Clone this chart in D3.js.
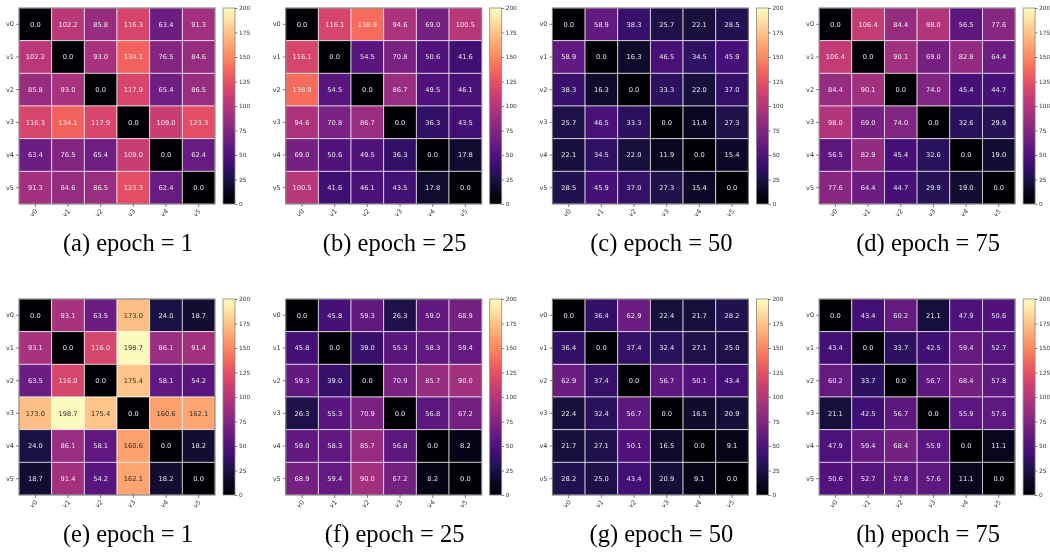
<!DOCTYPE html>
<html>
<head>
<meta charset="utf-8">
<script src="https://cdn.jsdelivr.net/npm/d3@7"></script>
<style>
  body { margin: 0; background: #fff; }
  svg { display: block; will-change: transform; }
  svg text { opacity: 0.99; }
</style>
</head>
<body>
<svg width="1050" height="552"></svg>
<script>
// node labels, colorbar ticks, captions
var nodes = ["v0", "v1", "v2", "v3", "v4", "v5"];
var cbTicks = [0, 25, 50, 75, 100, 125, 150, 175, 200];
var captions = ["(a) epoch = 1", "(b) epoch = 25", "(c) epoch = 50", "(d) epoch = 75",
                "(e) epoch = 1", "(f) epoch = 25", "(g) epoch = 50", "(h) epoch = 75"];

// distance matrices, one per panel
var matA = [
  [0.0, 102.2, 85.8, 116.3, 63.4, 91.3],
  [102.2, 0.0, 93.0, 134.1, 76.5, 84.6],
  [85.8, 93.0, 0.0, 117.9, 65.4, 86.5],
  [116.3, 134.1, 117.9, 0.0, 109.0, 123.3],
  [63.4, 76.5, 65.4, 109.0, 0.0, 62.4],
  [91.3, 84.6, 86.5, 123.3, 62.4, 0.0]
];
var matB = [
  [0.0, 116.1, 138.9, 94.6, 69.0, 100.5],
  [116.1, 0.0, 54.5, 70.8, 50.6, 41.6],
  [138.9, 54.5, 0.0, 86.7, 49.5, 46.1],
  [94.6, 70.8, 86.7, 0.0, 36.3, 43.5],
  [69.0, 50.6, 49.5, 36.3, 0.0, 17.8],
  [100.5, 41.6, 46.1, 43.5, 17.8, 0.0]
];
var matC = [
  [0.0, 58.9, 38.3, 25.7, 22.1, 28.5],
  [58.9, 0.0, 16.3, 46.5, 34.5, 45.9],
  [38.3, 16.3, 0.0, 33.3, 22.0, 37.0],
  [25.7, 46.5, 33.3, 0.0, 11.9, 27.3],
  [22.1, 34.5, 22.0, 11.9, 0.0, 15.4],
  [28.5, 45.9, 37.0, 27.3, 15.4, 0.0]
];
var matD = [
  [0.0, 106.4, 84.4, 98.0, 56.5, 77.6],
  [106.4, 0.0, 90.1, 69.0, 82.9, 64.4],
  [84.4, 90.1, 0.0, 74.0, 45.4, 44.7],
  [98.0, 69.0, 74.0, 0.0, 32.6, 29.9],
  [56.5, 82.9, 45.4, 32.6, 0.0, 19.0],
  [77.6, 64.4, 44.7, 29.9, 19.0, 0.0]
];
var matE = [
  [0.0, 93.1, 63.5, 173.0, 24.0, 18.7],
  [93.1, 0.0, 116.0, 198.7, 86.1, 91.4],
  [63.5, 116.0, 0.0, 175.4, 58.1, 54.2],
  [173.0, 198.7, 175.4, 0.0, 160.6, 162.1],
  [24.0, 86.1, 58.1, 160.6, 0.0, 18.2],
  [18.7, 91.4, 54.2, 162.1, 18.2, 0.0]
];
var matF = [
  [0.0, 45.8, 59.3, 26.3, 59.0, 68.9],
  [45.8, 0.0, 39.0, 55.3, 58.3, 59.4],
  [59.3, 39.0, 0.0, 70.9, 85.7, 90.0],
  [26.3, 55.3, 70.9, 0.0, 56.8, 67.2],
  [59.0, 58.3, 85.7, 56.8, 0.0, 8.2],
  [68.9, 59.4, 90.0, 67.2, 8.2, 0.0]
];
var matG = [
  [0.0, 36.4, 62.9, 22.4, 21.7, 28.2],
  [36.4, 0.0, 37.4, 32.4, 27.1, 25.0],
  [62.9, 37.4, 0.0, 56.7, 50.1, 43.4],
  [22.4, 32.4, 56.7, 0.0, 16.5, 20.9],
  [21.7, 27.1, 50.1, 16.5, 0.0, 9.1],
  [28.2, 25.0, 43.4, 20.9, 9.1, 0.0]
];
var matH = [
  [0.0, 43.4, 60.2, 21.1, 47.9, 50.6],
  [43.4, 0.0, 33.7, 42.5, 59.4, 52.7],
  [60.2, 33.7, 0.0, 56.7, 68.4, 57.8],
  [21.1, 42.5, 56.7, 0.0, 55.9, 57.6],
  [47.9, 59.4, 68.4, 55.9, 0.0, 11.1],
  [50.6, 52.7, 57.8, 57.6, 11.1, 0.0]
];

var panels = [matA, matB, matC, matD, matE, matF, matG, matH];

var svg = d3.select("svg");
var size = 196;
var color = d3.scaleSequential(d3.interpolateMagma).domain([0, 200]);

var band = d3.scaleBand().domain(nodes).range([0, size]);
var cbScale = d3.scaleLinear().domain([0, 200]).range([size, 0]);

// shared gradient for the colorbars
var grad = svg.append("defs").append("linearGradient")
    .attr("id", "magma")
    .attr("x1", 0).attr("y1", 1).attr("x2", 0).attr("y2", 0);
d3.range(0, 1.0001, 0.05).forEach(function(t) {
  grad.append("stop").attr("offset", t).attr("stop-color", d3.interpolateMagma(t));
});

function luminance(c) {
  var rgb = d3.rgb(c);
  var ch = [rgb.r, rgb.g, rgb.b].map(function(v) {
    v = v / 255;
    return v <= 0.03928 ? v / 12.92 : Math.pow((v + 0.055) / 1.055, 2.4);
  });
  return 0.2126 * ch[0] + 0.7152 * ch[1] + 0.0722 * ch[2];
}

panels.forEach(function(mat, i) {
  var col = i % 4, row = Math.floor(i / 4);
  var left = 19 + col * 266.7;
  var top = 8 + row * 291;

  var g = svg.append("g").attr("transform", "translate(" + left + "," + top + ")");

  var cells = [];
  mat.forEach(function(r, ri) {
    r.forEach(function(v, ci) { cells.push({row: nodes[ri], col: nodes[ci], value: v}); });
  });

  g.selectAll("rect.cell")
    .data(cells)
    .enter().append("rect")
    .attr("class", "cell")
    .attr("x", function(d) { return band(d.col); })
    .attr("y", function(d) { return band(d.row); })
    .attr("width", band.bandwidth())
    .attr("height", band.bandwidth())
    .attr("fill", function(d) { return color(d.value); })
    .attr("stroke", "rgba(255,255,255,0.7)")
    .attr("stroke-width", 0.9);

  g.selectAll("text.val")
    .data(cells)
    .enter().append("text")
    .attr("class", "val")
    .attr("x", function(d) { return band(d.col) + band.bandwidth() / 2; })
    .attr("y", function(d) { return band(d.row) + band.bandwidth() / 2; })
    .attr("dy", "0.35em")
    .attr("text-anchor", "middle")
    .attr("font-family", "DejaVu Sans")
    .attr("font-size", "6.7px")
    .attr("fill", function(d) { return luminance(color(d.value)) > 0.408 ? "#2a2a2a" : "#eeeeee"; })
    .text(function(d) { return d.value.toFixed(1); });

  // frame
  g.append("rect")
    .attr("width", size).attr("height", size)
    .attr("fill", "none")
    .attr("stroke", "#707070")
    .attr("stroke-width", 1);

  // y axis
  var yAx = g.append("g").call(d3.axisLeft(band).tickSize(3).tickPadding(2));
  yAx.select(".domain").remove();
  yAx.selectAll("text").attr("font-family", "DejaVu Sans").attr("font-size", "6.5px").attr("fill", "#333");
  yAx.selectAll("line").attr("stroke", "#333").attr("stroke-width", 0.6);

  // x axis, rotated labels
  var xAx = g.append("g").attr("transform", "translate(0," + size + ")")
    .call(d3.axisBottom(band).tickSize(3).tickPadding(2));
  xAx.select(".domain").remove();
  xAx.selectAll("line").attr("stroke", "#333").attr("stroke-width", 0.6);
  xAx.selectAll("text")
    .attr("font-family", "DejaVu Sans").attr("font-size", "6.5px").attr("fill", "#333")
    .attr("text-anchor", "end")
    .attr("dy", "0.35em")
    .attr("transform", "translate(1,6) rotate(-45)")
    .attr("y", 0).attr("x", 0);

  // colorbar
  var cb = g.append("g").attr("transform", "translate(" + (size + 8) + ",0)");
  cb.append("rect")
    .attr("width", 12).attr("height", size)
    .attr("fill", "url(#magma)")
    .attr("stroke", "#888").attr("stroke-width", 0.8);
  var cbAx = cb.append("g").attr("transform", "translate(12,0)")
    .call(d3.axisRight(cbScale).tickValues(cbTicks).tickSize(2.5).tickPadding(1.5));
  cbAx.select(".domain").remove();
  cbAx.selectAll("line").attr("stroke", "#333").attr("stroke-width", 0.6);
  cbAx.selectAll("text").attr("font-family", "DejaVu Sans").attr("font-size", "5.8px").attr("fill", "#333");

  // caption
  g.append("text")
    .attr("x", size / 2 + 11)
    .attr("y", 243)
    .attr("text-anchor", "middle")
    .attr("font-family", "Liberation Serif, Times New Roman, serif")
    .attr("font-size", "24.5px")
    .attr("fill", "#000")
    .text(captions[i]);
});
</script>
</body>
</html>
